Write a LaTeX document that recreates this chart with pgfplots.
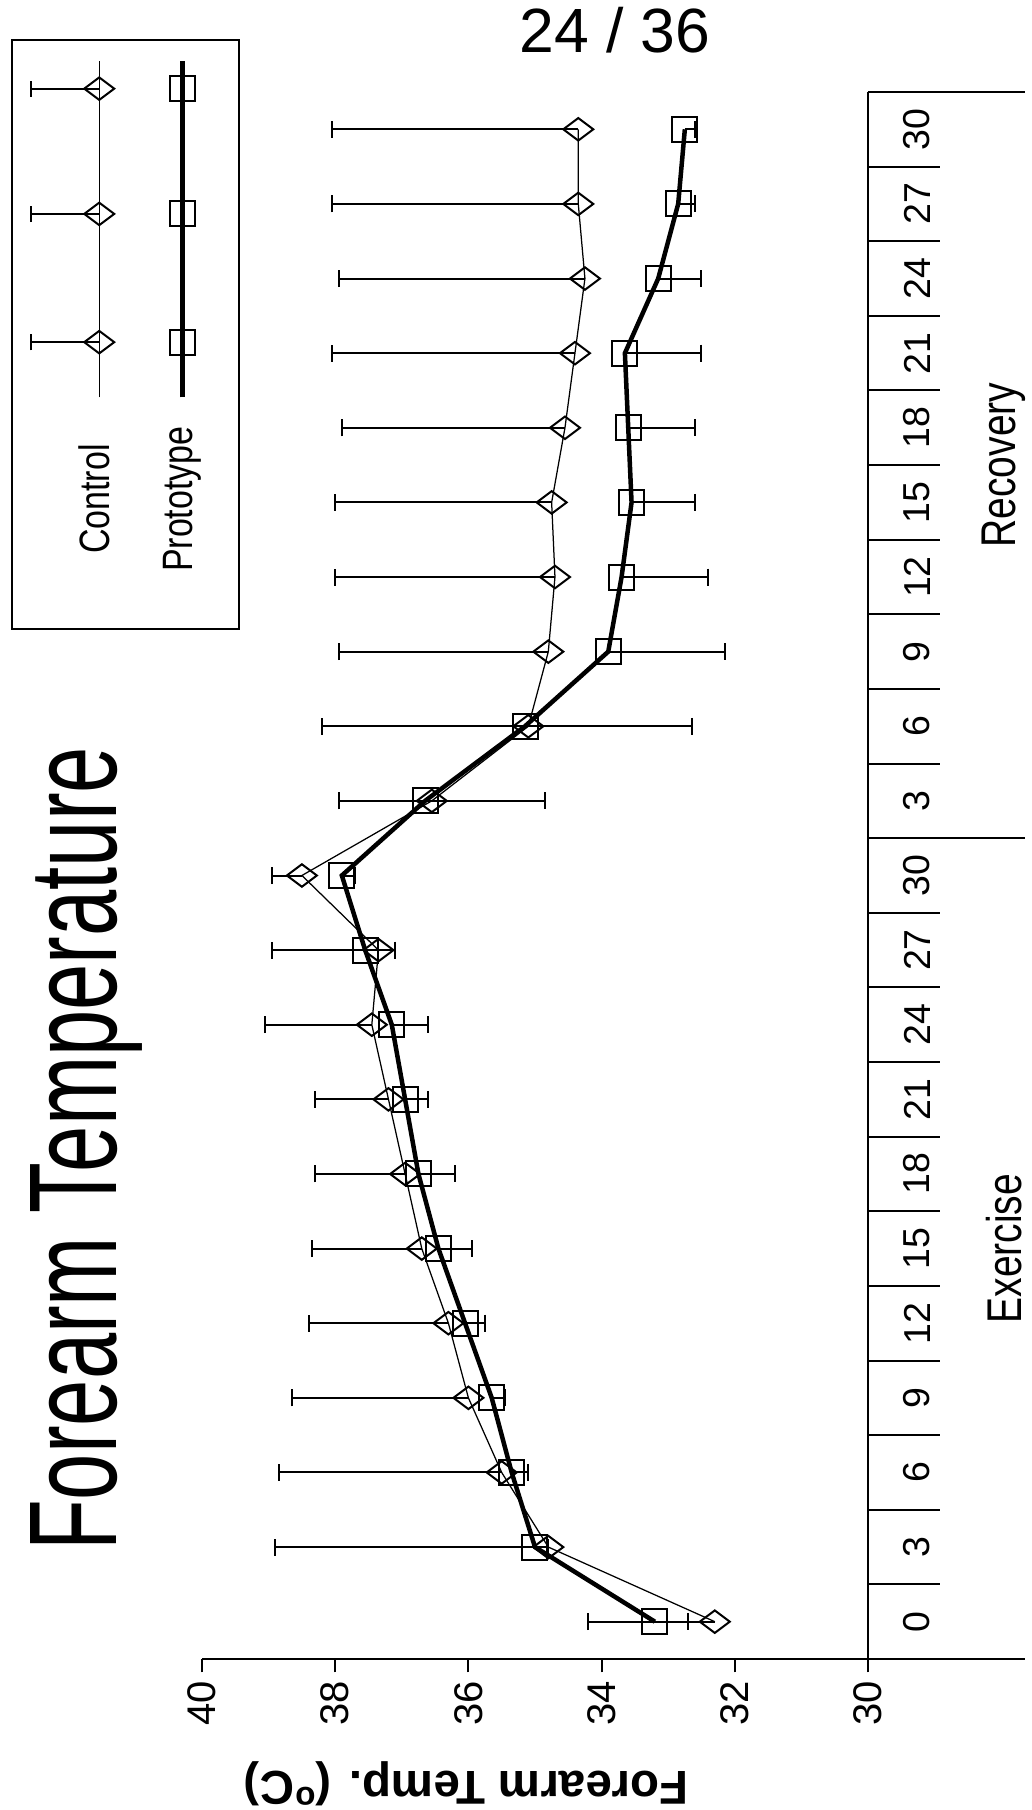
\documentclass[border=0pt]{standalone}
\usepackage{fontspec}
\setmainfont{Liberation Sans}
\newfontfamily\condfont[FakeStretch=0.8]{Liberation Sans}
\newfontfamily\titlefont[FakeStretch=0.665]{Liberation Sans}
\usepackage{pgfplots}
\pgfplotsset{compat=1.18}
\usepackage{pgfplotstable}

\pgfplotstableread{
x c ce p pe
0 32.3 1.9 33.2 0.5
1 34.8 4.1 35.0 0.2
2 35.5 3.35 35.35 0.25
3 36.0 2.65 35.65 0.2
4 36.3 2.1 36.05 0.3
5 36.7 1.65 36.45 0.5
6 36.95 1.35 36.75 0.55
7 37.2 1.1 36.95 0.35
8 37.45 1.6 37.15 0.55
9 37.35 1.6 37.55 0.45
10 38.5 0.45 37.9 0.2
11 36.55 1.4 36.65 1.8
12 35.1 3.1 35.15 2.5
13 34.8 3.15 33.9 1.75
14 34.7 3.3 33.7 1.3
15 34.75 3.25 33.55 0.95
16 34.55 3.35 33.6 1.0
17 34.4 3.65 33.65 1.15
18 34.25 3.7 33.15 0.65
19 34.35 3.7 32.85 0.25
20 34.35 3.7 32.75 0.15
}\data

\pgfplotsset{
  ctrlleg/.style={legend image code/.code={
    \draw[overlay, line width=0.8pt, solid]
      (22.1pt,0pt) -- (22.1pt,27.2pt) (73.4pt,0pt) -- (73.4pt,27.2pt) (123.5pt,0pt) -- (123.5pt,27.2pt)
      (18.85pt,27.2pt) -- (25.35pt,27.2pt) (70.15pt,27.2pt) -- (76.65pt,27.2pt) (120.25pt,27.2pt) -- (126.75pt,27.2pt);
    \draw[mark repeat=2, mark phase=2, ##1] plot coordinates {(0pt,0pt) (22.1pt,0pt) (47pt,0pt) (73.4pt,0pt) (98pt,0pt) (123.5pt,0pt) (134.4pt,0pt)};
  }},
  protleg/.style={legend image code/.code={
    \draw[mark repeat=2, mark phase=2, ##1] plot coordinates {(0pt,0pt) (22.1pt,0pt) (47pt,0pt) (73.4pt,0pt) (98pt,0pt) (123.5pt,0pt) (134.4pt,0pt)};
  }},
}

\begin{document}
\begin{tikzpicture}
\begin{scope}[rotate=90, transform shape]
\begin{axis}[
  at={(0,0)}, anchor=south west,
  scale only axis, width=626.8pt, height=266.4pt,
  xmin=-0.5, xmax=20.5, ymin=30, ymax=40,
  axis x line*=bottom, axis y line*=left,
  axis line style={line width=0.8pt},
  clip=false,
  /pgf/number format/assume math mode=true,
  xtick={0,...,20},
  xticklabels={0,3,6,9,12,15,18,21,24,27,30,3,6,9,12,15,18,21,24,27,30},
  every major x tick/.append style={draw=none},
  ytick={30,32,...,40},
  tick align=outside,
  major tick length=5.3pt,
  tick style={black, line width=0.8pt},
  xticklabel style={anchor=center, yshift=-14.3pt, font=\fontsize{15}{18}\selectfont},
  yticklabel style={anchor=center, xshift=-12.3pt, font=\fontsize{16}{19}\selectfont},
  every axis y label/.style={at={(axis description cs:-0.0798,0.603)}, rotate=90, anchor=center},
  ylabel={\bfseries\fontsize{19}{22}\selectfont Forearm Temp. (\textsuperscript{o}C)},
  legend plot pos=right,
  legend cell align=center,
  legend style={at={(rel axis cs:0.6934,1.0918)}, anchor=west, draw=none, fill=none,
     inner sep=0pt, font=\condfont\fontsize{17}{20}\selectfont, row sep=17.3pt, column sep=10.7pt,
     nodes={inner sep=0pt, text height=12pt, text depth=4pt}},
]
\addplot[black, line width=0.5pt, mark=diamond, mark size=6pt,
  mark options={fill=white, line width=0.8pt}, ctrlleg,
  error bars/.cd, y dir=plus, y explicit,
  error bar style={line width=0.8pt},
  error mark options={rotate=90, mark size=3.4pt, line width=0.8pt}]
  table[x=x, y=c, y error=ce] {\data};
\addlegendentry{Control}
\addplot[black, line width=1.8pt, mark=square, mark size=5pt,
  mark options={fill=white, line width=0.8pt}, protleg,
  error bars/.cd, y dir=minus, y explicit,
  error bar style={line width=0.8pt},
  error mark options={rotate=90, mark size=3.4pt, line width=0.8pt}]
  table[x=x, y=p, y error=pe] {\data};
\addlegendentry{Prototype}

\pgfplotsinvokeforeach{0.5,1.5,...,19.5}{\draw[line width=0.8pt] (axis cs:#1,30) -- (axis cs:#1,28.919);}
\draw[line width=0.8pt] (axis cs:10.5,30) -- (axis cs:10.5,27.643);
\draw[line width=0.8pt] (axis cs:20.5,30) -- (axis cs:20.5,27.643);
\draw[line width=0.8pt] (axis cs:-0.5,30) -- (axis cs:-0.5,27.643);
\draw[line width=0.8pt] (axis cs:-0.674,30) -- (axis cs:-0.5,30);
\node[font=\condfont\fontsize{19.5}{22}\selectfont] at (axis description cs:0.2619,-0.2042) {Exercise};
\node[font=\condfont\fontsize{19.5}{22}\selectfont] at (axis description cs:0.7619,-0.2042) {Recovery};
\node[font=\titlefont\fontsize{50}{54}\selectfont] at (axis description cs:0.3255,1.173) {Forearm Temperature};
\draw[line width=0.8pt] (rel axis cs:0.6573,0.9444) rectangle (rel axis cs:1.0332,1.286);
\end{axis}
\end{scope}
\node[font=\fontsize{25}{30}\selectfont] at (-101.2pt,651.6pt) {24 / 36};
\pgfresetboundingbox
\path (-347.2pt,-60.4pt) rectangle (65.6pt,663.6pt);
\end{tikzpicture}
\end{document}
